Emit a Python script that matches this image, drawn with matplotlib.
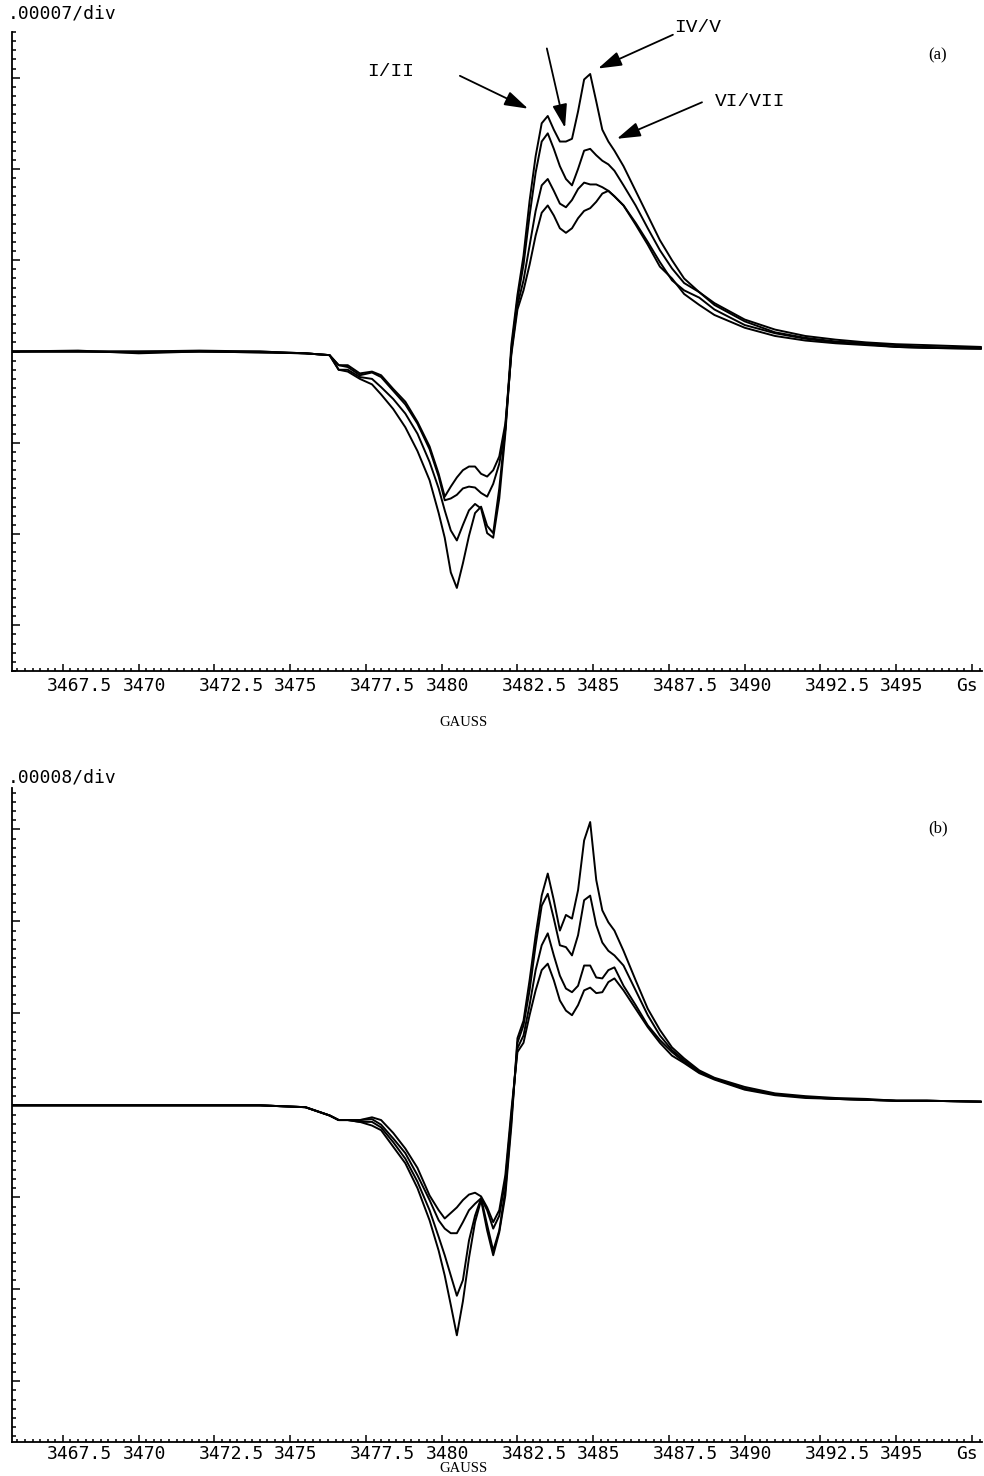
import numpy as np
import matplotlib
matplotlib.use("Agg")
import matplotlib.pyplot as plt
from matplotlib.ticker import MultipleLocator, NullFormatter
from matplotlib.transforms import ScaledTranslation

# Magnetic field grid (gauss), shared by both spectra
field = [3465.8, 3468.0, 3470.0, 3472.0, 3474.0, 3475.5, 3476.3, 3476.6, 3476.9,
         3477.3, 3477.7, 3478.0, 3478.4, 3478.8, 3479.2, 3479.6, 3479.9, 3480.1,
         3480.3, 3480.5, 3480.7, 3480.9, 3481.1, 3481.3, 3481.5, 3481.7, 3481.9,
         3482.1, 3482.3, 3482.5, 3482.7, 3482.9, 3483.1, 3483.3, 3483.5, 3483.7,
         3483.9, 3484.1, 3484.3, 3484.5, 3484.7, 3484.9, 3485.1, 3485.3, 3485.5,
         3485.7, 3486.0, 3486.4, 3486.8, 3487.2, 3487.6, 3488.0, 3488.5, 3489.0,
         3490.0, 3491.0, 3492.0, 3493.0, 3494.0, 3495.0, 3496.0, 3497.8]

# Spectrum (a): signal in divisions of 0.00007
a_1 = [0.0, 0.01, -0.02, 0.0, -0.01, -0.02, -0.04, -0.20, -0.22,
       -0.30, -0.36, -0.47, -0.63, -0.83, -1.09, -1.41, -1.77, -2.04,
       -2.42, -2.59, -2.32, -2.02, -1.77, -1.70, -1.91, -1.99, -1.50,
       -0.85, 0.08, 0.62, 1.05, 1.65, 2.14, 2.50, 2.58, 2.43,
       2.30, 2.30, 2.33, 2.63, 2.98, 3.04, 2.74, 2.43, 2.30,
       2.20, 2.03, 1.76, 1.49, 1.22, 1.00, 0.80, 0.65, 0.53,
       0.35, 0.24, 0.17, 0.13, 0.10, 0.08, 0.07, 0.05]
a_2 = [0.0, 0.0, -0.01, 0.0, -0.01, -0.02, -0.04, -0.20, -0.20,
       -0.28, -0.30, -0.39, -0.52, -0.68, -0.90, -1.21, -1.50, -1.74,
       -1.96, -2.07, -1.90, -1.74, -1.67, -1.72, -1.99, -2.04, -1.61,
       -0.90, 0.02, 0.57, 0.95, 1.49, 1.96, 2.30, 2.39, 2.22,
       2.03, 1.89, 1.82, 2.00, 2.20, 2.22, 2.15, 2.09, 2.05,
       1.98, 1.82, 1.60, 1.35, 1.11, 0.91, 0.75, 0.65, 0.51,
       0.33, 0.21, 0.15, 0.11, 0.09, 0.07, 0.05, 0.04]
a_3 = [0.0, 0.0, 0.0, 0.01, 0.0, -0.02, -0.04, -0.15, -0.17,
       -0.26, -0.23, -0.28, -0.43, -0.58, -0.79, -1.07, -1.37, -1.63,
       -1.61, -1.57, -1.50, -1.48, -1.49, -1.55, -1.59, -1.45, -1.23,
       -0.85, 0.0, 0.51, 0.78, 1.16, 1.54, 1.82, 1.89, 1.76,
       1.62, 1.58, 1.66, 1.78, 1.85, 1.83, 1.83, 1.80, 1.76,
       1.70, 1.60, 1.41, 1.20, 0.98, 0.78, 0.67, 0.59, 0.46,
       0.29, 0.20, 0.14, 0.10, 0.08, 0.05, 0.04, 0.03]
a_4 = [0.0, 0.0, 0.0, 0.0, 0.0, -0.02, -0.04, -0.15, -0.15,
       -0.24, -0.22, -0.26, -0.41, -0.55, -0.77, -1.04, -1.34, -1.59,
       -1.48, -1.38, -1.30, -1.26, -1.26, -1.34, -1.37, -1.30, -1.15,
       -0.79, -0.03, 0.46, 0.67, 0.95, 1.27, 1.52, 1.60, 1.49,
       1.35, 1.30, 1.35, 1.46, 1.54, 1.57, 1.64, 1.73, 1.76,
       1.70, 1.60, 1.39, 1.17, 0.93, 0.80, 0.63, 0.51, 0.40,
       0.26, 0.17, 0.12, 0.09, 0.07, 0.05, 0.04, 0.03]

# Spectrum (b): signal in divisions of 0.00008
b_1 = [0.0, 0.0, 0.0, 0.0, 0.0, -0.02, -0.11, -0.16, -0.16,
       -0.18, -0.22, -0.27, -0.45, -0.63, -0.90, -1.25, -1.58, -1.85,
       -2.17, -2.50, -2.13, -1.66, -1.27, -1.03, -1.36, -1.63, -1.38,
       -0.98, -0.22, 0.73, 0.92, 1.36, 1.85, 2.28, 2.52, 2.23,
       1.90, 2.07, 2.03, 2.34, 2.88, 3.08, 2.45, 2.12, 1.99,
       1.90, 1.68, 1.36, 1.05, 0.82, 0.63, 0.51, 0.38, 0.30,
       0.20, 0.13, 0.10, 0.08, 0.07, 0.05, 0.05, 0.04]
b_2 = [0.0, 0.0, 0.0, 0.0, 0.0, -0.02, -0.11, -0.16, -0.16,
       -0.18, -0.18, -0.24, -0.40, -0.58, -0.83, -1.14, -1.43, -1.63,
       -1.85, -2.07, -1.90, -1.47, -1.20, -1.01, -1.30, -1.58, -1.36,
       -0.92, -0.16, 0.68, 0.87, 1.25, 1.74, 2.17, 2.30, 2.03,
       1.74, 1.72, 1.63, 1.85, 2.23, 2.28, 1.96, 1.77, 1.68,
       1.63, 1.52, 1.25, 0.98, 0.76, 0.60, 0.49, 0.37, 0.29,
       0.18, 0.12, 0.09, 0.07, 0.06, 0.05, 0.05, 0.04]
b_3 = [0.0, 0.0, 0.0, 0.0, 0.0, -0.02, -0.11, -0.16, -0.16,
       -0.16, -0.15, -0.21, -0.36, -0.52, -0.76, -1.03, -1.25, -1.34,
       -1.39, -1.39, -1.27, -1.14, -1.07, -1.01, -1.14, -1.34, -1.20,
       -0.82, -0.11, 0.62, 0.76, 1.09, 1.47, 1.74, 1.87, 1.63,
       1.41, 1.27, 1.23, 1.30, 1.52, 1.52, 1.39, 1.38, 1.47,
       1.50, 1.30, 1.09, 0.87, 0.71, 0.58, 0.47, 0.36, 0.29,
       0.18, 0.12, 0.09, 0.07, 0.06, 0.05, 0.05, 0.04]
b_4 = [0.0, 0.0, 0.0, 0.0, 0.0, -0.02, -0.11, -0.16, -0.16,
       -0.16, -0.13, -0.16, -0.30, -0.47, -0.68, -0.98, -1.14, -1.23,
       -1.17, -1.11, -1.03, -0.97, -0.95, -0.99, -1.11, -1.27, -1.14,
       -0.76, -0.05, 0.58, 0.68, 0.98, 1.25, 1.47, 1.54, 1.36,
       1.14, 1.03, 0.98, 1.09, 1.25, 1.28, 1.22, 1.23, 1.34,
       1.38, 1.25, 1.05, 0.85, 0.68, 0.54, 0.46, 0.35, 0.28,
       0.17, 0.11, 0.08, 0.07, 0.06, 0.05, 0.05, 0.04]

scale_a = 0.00007   # signal per vertical division, spectrum (a)
scale_b = 0.00008   # signal per vertical division, spectrum (b)

tick_fields = [3467.5, 3470, 3472.5, 3475, 3477.5, 3480, 3482.5, 3485,
               3487.5, 3490, 3492.5, 3495, 3497.5]
tick_texts = ["3467.5", "3470", "3472.5", "3475", "3477.5", "3480", "3482.5",
              "3485", "3487.5", "3490", "3492.5", "3495", "Gs"]

W, H = 984, 1476
fig = plt.figure(figsize=(W / 100, H / 100), dpi=100)
fig.patch.set_facecolor("white")

mono = "DejaVu Sans Mono"
serif = "Liberation Serif"
courier = "Liberation Mono"


def frame(ax, scale, ylo, yhi, label_pad):
    ax.set_xlim(3465.82, 3497.83)
    ax.set_ylim(ylo * scale, yhi * scale)
    for s in ("top", "right"):
        ax.spines[s].set_visible(False)
    for s in ("left", "bottom"):
        ax.spines[s].set_linewidth(1.3)
    ax.xaxis.set_minor_locator(MultipleLocator(0.25))
    ax.yaxis.set_major_locator(MultipleLocator(scale))
    ax.yaxis.set_minor_locator(MultipleLocator(scale / 10))
    ax.yaxis.set_major_formatter(NullFormatter())
    ax.set_xticks(tick_fields)
    ax.set_xticklabels(tick_texts, family=mono, fontsize=13)
    ax.tick_params(which="both", direction="in", width=1.1, color="black")
    ax.tick_params(axis="y", which="major", length=6)
    ax.tick_params(axis="y", which="minor", length=3)
    ax.tick_params(axis="x", which="major", length=5, pad=label_pad)
    ax.tick_params(axis="x", which="minor", length=2.5)
    shift = ScaledTranslation(-16 / 100, 0, fig.dpi_scale_trans)
    for lab in ax.get_xticklabels():
        lab.set_horizontalalignment("left")
        lab.set_transform(lab.get_transform() + shift)


def traces(ax, scale, series):
    x = np.array(field)
    for ys in series:
        ax.plot(x, np.array(ys) * scale, color="black", lw=1.4,
                solid_joinstyle="round", solid_capstyle="round")


ax_a = fig.add_axes([12 / W, 1 - 671 / H, 970 / W, 639 / H])
frame(ax_a, scale_a, -3.5, 3.5, 4)
traces(ax_a, scale_a, [a_1, a_2, a_3, a_4])

ax_b = fig.add_axes([12 / W, 1 - 1442 / H, 970 / W, 654 / H])
frame(ax_b, scale_b, -3.66, 3.45, 2)
traces(ax_b, scale_b, [b_1, b_2, b_3, b_4])

# Scale captions and axis names
fig.text(8 / W, 1 - 14 / H, ".00007/div", family=mono, fontsize=13,
         ha="left", va="center")
fig.text(8 / W, 1 - 778 / H, ".00008/div", family=mono, fontsize=13,
         ha="left", va="center")
fig.text(463 / W, 1 - 723 / H, "GAUSS", family=serif, fontsize=10.5,
         ha="center", va="center")
fig.text(463 / W, 1 - 1468 / H, "GAUSS", family=serif, fontsize=10.5,
         ha="center", va="center")
fig.text(938 / W, 1 - 55 / H, "(a)", family=serif, fontsize=12,
         ha="center", va="center")
fig.text(938 / W, 1 - 828 / H, "(b)", family=serif, fontsize=12,
         ha="center", va="center")

# Peak assignments in spectrum (a)
arrow = dict(arrowstyle="-|>,head_length=0.9,head_width=0.28", color="black",
             lw=1.3, shrinkA=0, shrinkB=0, mutation_scale=16)
s = scale_a
ax_a.annotate("", xy=(3482.85, 2.66 * s), xytext=(3480.60, 3.02 * s),
              arrowprops=arrow)
ax_a.annotate("", xy=(3484.07, 2.45 * s), xytext=(3483.47, 3.32 * s),
              arrowprops=arrow)
ax_a.annotate("", xy=(3485.16, 3.10 * s), xytext=(3487.63, 3.47 * s),
              arrowprops=arrow, annotation_clip=False)
ax_a.annotate("", xy=(3485.78, 2.33 * s), xytext=(3488.59, 2.73 * s),
              arrowprops=arrow)
ax_a.text(3478.32, 3.07 * s, "I/II", family=courier, fontsize=14,
          ha="center", va="center")
ax_a.text(3488.46, 3.55 * s, "IV/V", family=courier, fontsize=14,
          ha="center", va="center", clip_on=False)
ax_a.text(3490.17, 2.74 * s, "VI/VII", family=courier, fontsize=14,
          ha="center", va="center")

fig.savefig("out.png", dpi=100, facecolor="white")
